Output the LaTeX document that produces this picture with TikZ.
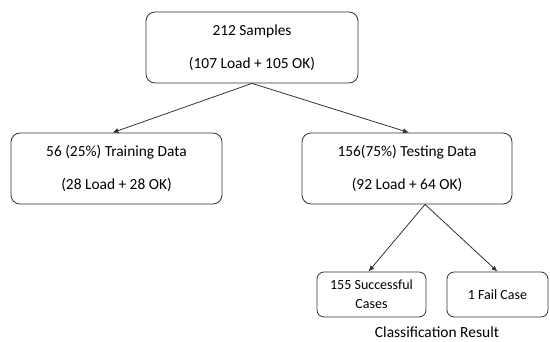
\documentclass[tikz,border=0pt]{standalone}
\usepackage{fontspec}
\setmainfont{Carlito}
\usetikzlibrary{arrows.meta}
\begin{document}
\begin{tikzpicture}[x=1pt,y=-1pt,
  bigbox/.style={draw=black!80, line width=0.8pt, rounded corners=9pt, align=center, inner sep=0pt,
    font=\fontsize{15.4}{33}\selectfont, minimum height=71pt},
  smallbox/.style={draw=black!80, line width=0.8pt, rounded corners=7pt, align=center, inner sep=0pt,
    font=\fontsize{14}{19}\selectfont, minimum height=45pt},
  conn/.style={draw=black!80, line width=0.8pt, -{Latex[length=6pt,width=5pt]}}]
\useasboundingbox (0,0) rectangle (550,342);
\node[bigbox, minimum width=212pt] (top) at (252,47.5) {212 Samples\\(107 Load + 105 OK)};
\node[bigbox, minimum width=211pt] (left) at (116.5,168.5) {56 (25\%) Training Data\\(28 Load + 28 OK)};
\node[bigbox, minimum width=210pt] (right) at (407,168.5) {156(75\%) Testing Data\\(92 Load + 64 OK)};
\node[smallbox, minimum width=109pt] (bl) at (371.5,294.5) {155 Successful\\Cases};
\node[smallbox, minimum width=101pt] (br) at (497.5,294.5) {1 Fail Case};
\node[font=\fontsize{15.5}{19}\selectfont, inner sep=0pt, anchor=base] (lab) at (437,338) {Classification Result};
\coordinate (rs) at ([xshift=18pt]right.south);
\draw[conn] (top.south) -- ([xshift=-4pt]left.north);
\draw[conn] (top.south) -- ([xshift=2pt]right.north);
\draw[conn] (rs) -- ([xshift=-3pt]bl.north);
\draw[conn] (rs) -- (br.north);
\end{tikzpicture}
\end{document}
